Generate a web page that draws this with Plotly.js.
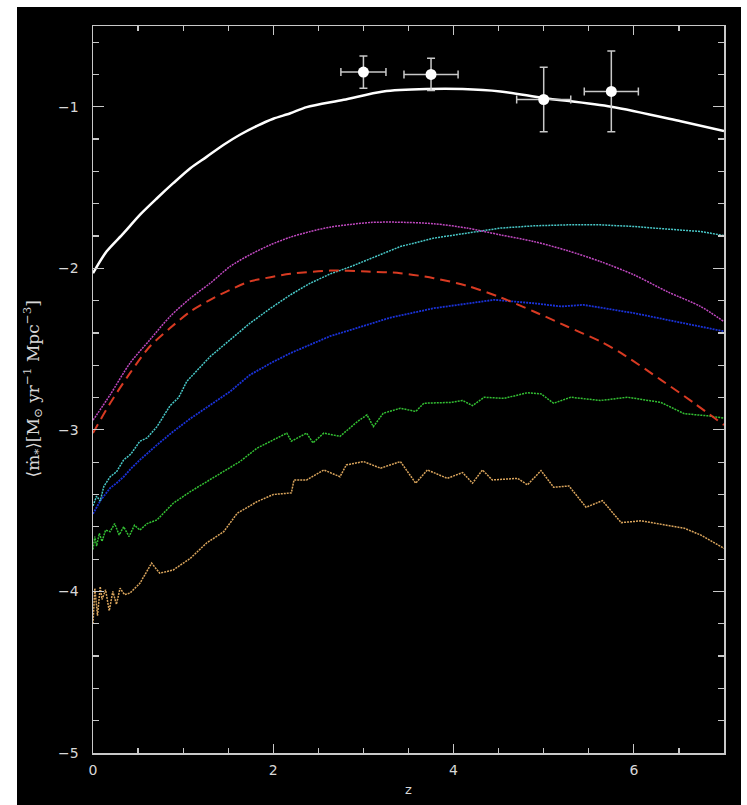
<!DOCTYPE html>
<html>
<head>
<meta charset="utf-8">
<script src="https://cdn.plot.ly/plotly-3.0.1.min.js"></script>
<style>
html,body{margin:0;padding:0;background:#fff;width:747px;height:805px;overflow:hidden;}
#plot{position:absolute;left:17px;top:7px;width:724px;height:798px;background:#000;}
</style>
</head>
<body>
<div id="plot"></div>
<script>
// total (white)
const zTotal = [0, 0.15, 0.34, 0.52, 0.71, 0.89, 1.08, 1.26, 1.45, 1.63, 1.82, 2.0, 2.19, 2.37, 2.78, 3.22, 3.7, 4.1, 4.52, 5.0, 5.75, 6.52, 7.0];
const yTotal = [-2.03, -1.896, -1.782, -1.669, -1.566, -1.473, -1.38, -1.31, -1.235, -1.173, -1.118, -1.074, -1.04, -1.002, -0.957, -0.905, -0.89, -0.89, -0.905, -0.945, -1.0, -1.09, -1.15];

// magenta
const zMagenta = [0, 0.19, 0.41, 0.63, 0.855, 1.08, 1.3, 1.52, 1.74, 1.97, 2.19, 2.41, 2.63, 2.86, 3.08, 3.35, 3.78, 4.15, 4.52, 4.89, 5.26, 5.63, 6.0, 6.37, 6.74, 7.0];
const yMagenta = [-2.94, -2.783, -2.587, -2.443, -2.298, -2.185, -2.092, -1.989, -1.916, -1.854, -1.807, -1.772, -1.745, -1.728, -1.716, -1.714, -1.724, -1.751, -1.793, -1.834, -1.89, -1.958, -2.04, -2.144, -2.236, -2.33];

// cyan
const zCyan = [0, 0.04, 0.08, 0.12, 0.19, 0.26, 0.34, 0.42, 0.52, 0.6, 0.71, 0.855, 0.95, 1.04, 1.3, 1.52, 1.74, 1.97, 2.19, 2.41, 2.63, 2.86, 3.08, 3.41, 3.78, 4.15, 4.52, 4.89, 5.26, 5.63, 6.0, 6.37, 6.74, 7.0];
const yCyan = [-3.47, -3.41, -3.44, -3.35, -3.29, -3.26, -3.186, -3.15, -3.07, -3.05, -2.98, -2.85, -2.80, -2.70, -2.546, -2.443, -2.34, -2.247, -2.164, -2.092, -2.035, -1.989, -1.94, -1.865, -1.813, -1.782, -1.751, -1.737, -1.731, -1.731, -1.741, -1.757, -1.772, -1.797];

// blue
const zBlue = [0, 0.04, 0.08, 0.12, 0.19, 0.26, 0.34, 0.42, 0.52, 0.71, 0.89, 1.08, 1.26, 1.52, 1.74, 1.97, 2.19, 2.41, 2.63, 2.86, 3.08, 3.3, 3.78, 4.15, 4.45, 4.89, 5.19, 5.44, 6.0, 6.37, 6.74, 7.0];
const yBlue = [-3.52, -3.475, -3.44, -3.41, -3.36, -3.33, -3.29, -3.24, -3.186, -3.093, -3.01, -2.93, -2.86, -2.763, -2.66, -2.587, -2.525, -2.474, -2.42, -2.381, -2.345, -2.305, -2.247, -2.22, -2.195, -2.216, -2.236, -2.226, -2.277, -2.319, -2.36, -2.39];

// red dashed
const zRed = [0, 0.19, 0.41, 0.63, 0.855, 1.08, 1.3, 1.52, 1.74, 1.97, 2.19, 2.63, 3.04, 3.41, 3.78, 4.15, 4.52, 4.89, 5.26, 5.63, 5.86, 6.3, 6.67, 7.0];
const yRed = [-3.02, -2.835, -2.649, -2.484, -2.37, -2.267, -2.195, -2.133, -2.081, -2.055, -2.034, -2.014, -2.02, -2.03, -2.061, -2.108, -2.18, -2.267, -2.36, -2.453, -2.525, -2.69, -2.835, -2.97];

// green
const zGreen = [0, 0.02, 0.04, 0.07, 0.1, 0.14, 0.19, 0.24, 0.29, 0.34, 0.4, 0.46, 0.52, 0.6, 0.71, 0.89, 1.08, 1.26, 1.45, 1.63, 1.82, 2.0, 2.15, 2.2, 2.37, 2.44, 2.56, 2.74, 2.93, 3.04, 3.11, 3.22, 3.41, 3.58, 3.67, 3.97, 4.1, 4.21, 4.34, 4.56, 4.82, 4.97, 5.11, 5.3, 5.63, 5.93, 6.3, 6.56, 6.82, 7.0];
const yGreen = [-3.74, -3.66, -3.72, -3.64, -3.69, -3.62, -3.63, -3.58, -3.65, -3.6, -3.66, -3.59, -3.62, -3.58, -3.557, -3.454, -3.382, -3.32, -3.258, -3.196, -3.113, -3.062, -3.02, -3.07, -3.02, -3.08, -3.02, -3.04, -2.95, -2.907, -2.98, -2.897, -2.866, -2.886, -2.835, -2.83, -2.818, -2.85, -2.798, -2.805, -2.77, -2.777, -2.835, -2.798, -2.818, -2.798, -2.83, -2.9, -2.913, -2.927];

// orange
const zOrange = [0, 0.02, 0.05, 0.08, 0.1, 0.14, 0.18, 0.22, 0.26, 0.3, 0.35, 0.41, 0.52, 0.65, 0.74, 0.89, 1.08, 1.26, 1.45, 1.6, 1.82, 2.0, 2.2, 2.23, 2.37, 2.56, 2.74, 2.81, 3.0, 3.19, 3.41, 3.58, 3.71, 3.93, 4.1, 4.21, 4.32, 4.43, 4.71, 4.82, 4.97, 5.11, 5.28, 5.47, 5.65, 5.86, 6.08, 6.37, 6.56, 6.74, 7.0];
const yOrange = [-4.2, -3.98, -4.15, -3.97, -4.05, -3.99, -4.12, -4.0, -4.08, -3.98, -4.02, -4.01, -3.95, -3.825, -3.887, -3.867, -3.795, -3.70, -3.63, -3.516, -3.444, -3.40, -3.39, -3.31, -3.31, -3.248, -3.29, -3.217, -3.196, -3.237, -3.196, -3.33, -3.248, -3.3, -3.264, -3.33, -3.248, -3.31, -3.3, -3.34, -3.252, -3.355, -3.347, -3.479, -3.438, -3.574, -3.563, -3.588, -3.609, -3.65, -3.733];

// observational points
const zObs = [3.0, 3.75, 5.0, 5.75];
const yObs = [-0.785, -0.80, -0.955, -0.905];
const zErr = [0.25, 0.3, 0.3, 0.3];
const yErr = [0.1, 0.1, 0.2, 0.25];

const yTitle = '⟨ṁ<sub>*</sub>⟩[M<sub>⊙</sub> yr<sup>−1</sup> Mpc<sup>−3</sup>]';

const dotted = '2px,1px';
function line(x, y, color, width, dash, shape) {
  return {x: x, y: y, type: 'scatter', mode: 'lines', hoverinfo: 'skip',
          line: {color: color, width: width, dash: dash, shape: shape || 'linear', smoothing: 0.8}};
}

const traces = [
  line(zOrange, yOrange, '#d9a45c', 1.5, dotted),
  line(zGreen, yGreen, '#33c033', 1.5, dotted),
  line(zBlue, yBlue, '#1a32d8', 1.8, dotted),
  line(zCyan, yCyan, '#48c8c8', 1.5, dotted),
  line(zMagenta, yMagenta, '#c048c0', 1.5, dotted, 'spline'),
  line(zRed, yRed, '#d83a22', 2, '10px,6px', 'spline'),
  line(zTotal, yTotal, '#ffffff', 2.5, 'solid', 'spline'),
  {x: zObs, y: yObs, type: 'scatter', mode: 'markers', hoverinfo: 'skip',
   marker: {color: '#ffffff', size: 11, symbol: 'circle'},
   error_x: {type: 'data', array: zErr, color: '#c8c8c8', thickness: 1.5, width: 4},
   error_y: {type: 'data', array: yErr, color: '#c8c8c8', thickness: 1.5, width: 4}}
];

const axisCol = '#c8c8c8';
const layout = {
  width: 724, height: 798,
  paper_bgcolor: '#000', plot_bgcolor: '#000',
  showlegend: false,
  margin: {l: 76, r: 17, t: 19, b: 52},
  xaxis: {
    range: [0, 7], showgrid: false, zeroline: false,
    showline: true, linecolor: axisCol, linewidth: 1.5, mirror: 'allticks',
    ticks: 'inside', tickcolor: axisCol, ticklen: 9, tickwidth: 1.2,
    tickmode: 'linear', tick0: 0, dtick: 2,
    minor: {ticks: 'inside', dtick: 0.5, ticklen: 5, tickcolor: axisCol, tickwidth: 1.2},
    tickfont: {family: 'DejaVu Sans', size: 14, color: '#d8d8d8'},
    ticklabelstandoff: 4,
    title: {text: 'z', font: {family: 'DejaVu Sans', size: 13, color: '#d8d8d8'}, standoff: 7}
  },
  yaxis: {
    range: [-5, -0.5], showgrid: false, zeroline: false,
    showline: true, linecolor: axisCol, linewidth: 1.5, mirror: 'allticks',
    ticks: 'inside', tickcolor: axisCol, ticklen: 11, tickwidth: 1.2,
    tickmode: 'linear', tick0: -5, dtick: 1,
    minor: {ticks: 'inside', dtick: 0.2, ticklen: 6, tickcolor: axisCol, tickwidth: 1.2},
    tickfont: {family: 'DejaVu Sans', size: 14, color: '#d8d8d8'},
    ticklabelstandoff: 10
  },
  annotations: [{
    text: yTitle, textangle: -90, showarrow: false,
    xref: 'paper', yref: 'paper', x: 0, y: 0.5, xanchor: 'center', yanchor: 'middle',
    xshift: -60,
    font: {family: 'DejaVu Serif', size: 17, color: '#d8d8d8'}
  }]
};

Plotly.newPlot('plot', traces, layout, {staticPlot: true, displayModeBar: false});
</script>
</body>
</html>
